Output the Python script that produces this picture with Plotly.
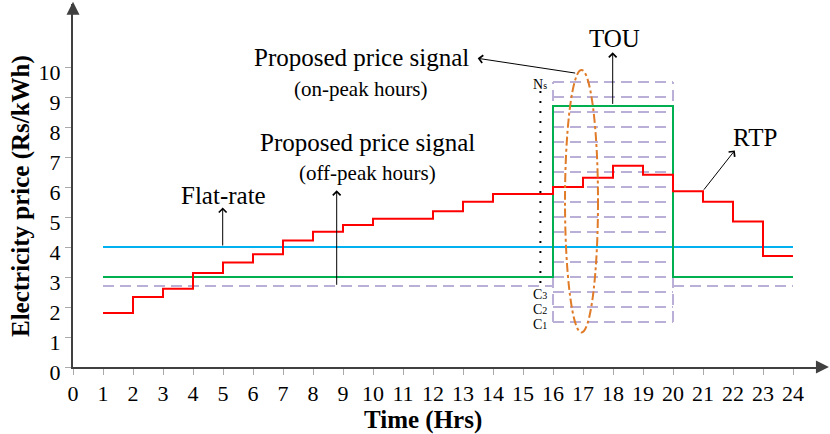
import plotly.graph_objects as go

# hourly data (hour h means the interval h..h+1)
hours = list(range(1, 25))
rtp_price = [1.8, 2.33, 2.61, 3.13, 3.48, 3.76, 4.22, 4.51, 4.73, 4.94, 4.94, 5.19,
             5.51, 5.77, 5.77, 6.0, 6.31, 6.71, 6.41, 5.86, 5.51, 4.85, 3.70, 3.70]
flat_price = [4.0] * 24
tou_hours = [1, 16, 20, 24]
tou_price = [3.0, 8.7, 3.0, 3.0]

# proposed signal: off-peak level and candidate on-peak levels C1..Ns
offpeak_level = 2.7
offpeak_spans = [(1, 16), (20, 24)]
onpeak_start, onpeak_end = 16, 20
signal_levels = [1.5, 2.0, 2.5, 3.0, 3.5, 4.0, 4.5, 5.0, 5.5, 6.0, 6.5,
                 7.0, 7.5, 8.0, 8.5, 9.0, 9.5]
level_labels = {2.5: ('C', '3'), 2.0: ('C', '2'), 1.5: ('C', '1'), 9.5: ('N', 's')}

x_ticks = list(range(0, 25))
y_ticks = list(range(0, 11))

FONT = 'Liberation Serif, Times New Roman, serif'
LAVENDER = 'rgb(185,175,215)'
DASH = '11px,6px'

fig = go.Figure()

# lavender dashed proposed price signal
for a, b in offpeak_spans:
    fig.add_trace(go.Scatter(x=[a, b], y=[offpeak_level, offpeak_level], mode='lines',
                             line=dict(color=LAVENDER, width=2, dash=DASH), hoverinfo='skip'))
for lv in signal_levels:
    fig.add_trace(go.Scatter(x=[onpeak_start, onpeak_end], y=[lv, lv], mode='lines',
                             line=dict(color=LAVENDER, width=2, dash=DASH), hoverinfo='skip'))
for xv in (onpeak_start, onpeak_end):
    fig.add_trace(go.Scatter(x=[xv, xv], y=[signal_levels[0], signal_levels[-1]], mode='lines',
                             line=dict(color=LAVENDER, width=2, dash=DASH), hoverinfo='skip'))

# dotted ladder left of the on-peak box
fig.add_trace(go.Scatter(x=[15.58, 15.58], y=[2.8, 9.2], mode='lines',
                         line=dict(color='black', width=2, dash='2px,8px'), hoverinfo='skip'))

# flat rate
fig.add_trace(go.Scatter(x=hours, y=flat_price, mode='lines',
                         line=dict(color='#00B0F0', width=2)))
# TOU
fig.add_trace(go.Scatter(x=tou_hours, y=tou_price, mode='lines', line_shape='hv',
                         line=dict(color='#00B050', width=2)))
# RTP
fig.add_trace(go.Scatter(x=hours, y=rtp_price, mode='lines', line_shape='hv',
                         line=dict(color='#FF0000', width=2)))

# ellipse around the on-peak levels
fig.add_shape(type='circle', xref='x', yref='y', x0=16.4, x1=17.5, y0=1.15, y1=9.9,
              line=dict(color='#E07B28', width=2, dash='dashdot'))

ann = []
for lv, (big, small) in level_labels.items():
    ann.append(dict(x=15.85, y=lv, text=f'{big}<span style="font-size:10px">{small}</span>',
                    showarrow=False, xanchor='right', yanchor='middle', yshift=-2,
                    font=dict(size=14)))


def arrow(x, y, ax, ay):
    return dict(x=x, y=y, ax=ax, ay=ay, xref='x', yref='y', axref='x', ayref='y',
                text='', showarrow=True, arrowhead=4, arrowsize=1.5, arrowwidth=1,
                arrowcolor='black')


ann += [
    dict(x=9.6, y=10.32, text='Proposed price signal', showarrow=False, font=dict(size=25)),
    dict(x=9.6, y=9.26, text='(on-peak hours)', showarrow=False, font=dict(size=21)),
    dict(x=9.82, y=7.49, text='Proposed price signal', showarrow=False, font=dict(size=25)),
    dict(x=9.82, y=6.46, text='(off-peak hours)', showarrow=False, font=dict(size=21)),
    dict(x=5.02, y=5.72, text='Flat-rate', showarrow=False, font=dict(size=25)),
    dict(x=18.06, y=10.96, text='TOU', showarrow=False, font=dict(size=25)),
    dict(x=22.72, y=7.66, text='RTP', showarrow=False, font=dict(size=25)),
    arrow(13.49, 10.29, 16.79, 9.79),
    arrow(8.79, 5.89, 8.79, 2.69),
    arrow(4.99, 5.32, 4.99, 4.0),
    arrow(17.99, 10.49, 17.99, 8.72),
    arrow(22.06, 7.22, 20.99, 5.86),
    # axis titles
    dict(x=-0.0696, y=0.471, xref='paper', yref='paper', xanchor='center', yanchor='middle',
         text='<b>Electricity price (Rs/kWh)</b>', textangle=-90, showarrow=False,
         font=dict(size=25)),
    dict(x=0.4685, y=-0.145, xref='paper', yref='paper', xanchor='center', yanchor='middle',
         text='<b>Time (Hrs)</b>', showarrow=False, font=dict(size=25)),
    # axis arrow heads
    dict(x=0, y=1.006, xref='paper', yref='paper', ax=0, ay=14, text='',
         showarrow=True, arrowhead=2, arrowsize=1.3, arrowwidth=2, arrowcolor='#404040'),
    dict(x=1.012, y=0, xref='paper', yref='paper', ax=-14, ay=0, text='',
         showarrow=True, arrowhead=2, arrowsize=1.3, arrowwidth=2, arrowcolor='#404040'),
]

fig.update_layout(
    width=830, height=434,
    margin=dict(l=73, r=10, t=4, b=67),
    plot_bgcolor='white', paper_bgcolor='white',
    showlegend=False,
    font=dict(family=FONT, size=22, color='black'),
    annotations=ann,
)
fig.update_xaxes(range=[0, 24.9], tickmode='array', tickvals=x_ticks,
                 showgrid=False, zeroline=False, showline=True, linecolor='#404040',
                 linewidth=2, ticks='outside', ticklen=6, tickwidth=1, tickcolor='#aaaaaa',
                 tickfont=dict(family=FONT, size=22, color='black'))
fig.update_yaxes(range=[0, 12.1], tickmode='array', tickvals=y_ticks,
                 showgrid=False, zeroline=False, showline=True, linecolor='#404040',
                 linewidth=2, ticks='outside', ticklen=6, tickwidth=1, tickcolor='#aaaaaa',
                 tickfont=dict(family=FONT, size=22, color='black'), ticklabelshift=5)

fig.write_html('out.html', config={'displayModeBar': False},
               post_script="document.body.style.margin='0';")
